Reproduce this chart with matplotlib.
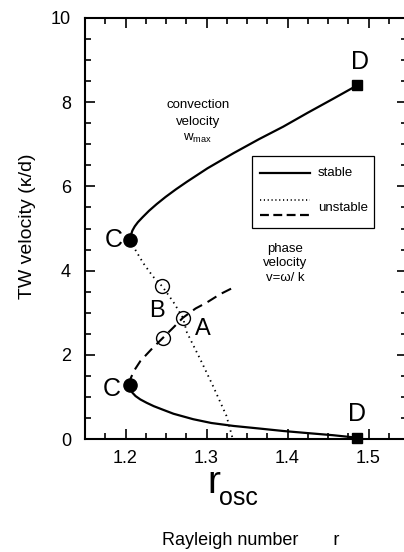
import numpy as np
import matplotlib
matplotlib.use("Agg")
import matplotlib.pyplot as plt
from matplotlib.ticker import MultipleLocator
from matplotlib.patches import Rectangle

plt.rcParams['font.family'] = ['Liberation Sans', 'DejaVu Sans']
plt.rcParams['mathtext.fontset'] = 'custom'
plt.rcParams['mathtext.rm'] = 'Liberation Sans'
plt.rcParams['mathtext.it'] = 'Liberation Sans'

# --- branch data (Rayleigh number r, TW velocity in kappa/d) ---
# stable convection-velocity branch C -> D
r_wmax_stable = [1.2056, 1.2066, 1.2085, 1.2114, 1.2153, 1.2212, 1.229, 1.2385, 1.2495, 1.2622,
                 1.2758, 1.3012, 1.3334, 1.3646, 1.3948, 1.425, 1.4562, 1.486]
w_wmax_stable = [4.72, 4.84, 4.95, 5.05, 5.15, 5.27, 5.42, 5.58, 5.75, 5.93,
                 6.11, 6.43, 6.79, 7.12, 7.42, 7.75, 8.08, 8.40]

# stable phase-velocity branch C -> D
r_phase_stable = [1.2056, 1.2066, 1.2085, 1.2124, 1.2183, 1.2261, 1.2349, 1.2456, 1.2592, 1.2836,
                  1.306, 1.3334, 1.3646, 1.3948, 1.425, 1.4562, 1.486]
v_phase_stable = [1.28, 1.18, 1.10, 1.02, 0.94, 0.86, 0.78, 0.70, 0.60, 0.47,
                  0.38, 0.31, 0.25, 0.19, 0.14, 0.09, 0.03]

# unstable convection-velocity branch (dotted)
r_wmax_unstable = [1.2056, 1.2134, 1.2222, 1.2339, 1.2456, 1.2592, 1.2709, 1.2758, 1.2924,
                   1.308, 1.3246, 1.332]
w_wmax_unstable = [4.72, 4.45, 4.17, 3.86, 3.62, 3.25, 2.88, 2.53, 1.89, 1.26, 0.55, 0.03]

# unstable phase-velocity branch (dashed)
r_phase_unstable = [1.2056, 1.2066, 1.2105, 1.2183, 1.2329, 1.2466, 1.2592, 1.2709, 1.2865,
                    1.3002, 1.3168, 1.3334]
v_phase_unstable = [1.28, 1.45, 1.62, 1.85, 2.15, 2.41, 2.65, 2.88, 3.10, 3.24, 3.44, 3.60]

# special points
r_C = [1.2056, 1.2056]
v_C = [4.72, 1.28]
r_D = [1.486, 1.486]
v_D = [8.40, 0.03]
r_open = [1.2456, 1.2466, 1.2709]
v_open = [3.63, 2.41, 2.88]

W, H = 404, 552
fig = plt.figure(figsize=(W / 100, H / 100), dpi=100)
ax = fig.add_axes([85 / W, 1 - 439 / H, 322 / W, (439 - 18) / H])

# pixel position -> axes fraction, for the hand-drawn legend
def px(x, y):
    return ((x - 85) / 322, (439 - y) / 421)

ax.plot(r_wmax_stable, w_wmax_stable, color='black', lw=1.6, solid_capstyle='round')
ax.plot(r_phase_stable, v_phase_stable, color='black', lw=1.6, solid_capstyle='round')
ax.plot(r_wmax_unstable, w_wmax_unstable, color='black', lw=1.3, linestyle=(0, (0.8, 2.2)))
ax.plot(r_phase_unstable, v_phase_unstable, color='black', lw=1.5, linestyle=(0, (5, 3)))

ax.plot(r_open, v_open, 'o', ms=10, mfc='none', mec='black', mew=1.0)
ax.plot(r_C, v_C, 'o', ms=9.5, color='black')
ax.plot(r_D, v_D, 's', ms=7.5, color='black', clip_on=False, zorder=5)

# point labels
lab = dict(fontsize=18, ha='center', va='center')
ax.text(1.1857, 4.73, 'C', **lab)
ax.text(1.1832, 1.19, 'C', **lab)
ax.text(1.4894, 8.95, 'D', **lab)
ax.text(1.4855, 0.59, 'D', **lab)
ax.text(1.2388, 3.04, 'B', fontsize=17, ha='center', va='center')
ax.text(1.2953, 2.61, 'A', fontsize=17, ha='center', va='center')

ax.text(1.2895, 7.52, 'convection\nvelocity\nw$_{\\rm max}$', fontsize=9.5,
        ha='center', va='center', linespacing=1.5)
ax.text(1.3967, 4.17, 'phase\nvelocity\nv=\u03c9/ k', fontsize=9.5,
        ha='center', va='center', linespacing=1.3)

# legend box
x0, y0 = px(252, 228)
x1, y1 = px(374, 156)
ax.add_patch(Rectangle((x0, y0), x1 - x0, y1 - y0, transform=ax.transAxes,
                       fill=False, lw=0.9, ec='black'))
lx = [px(260, 0)[0], px(310, 0)[0]]
ax.plot(lx, [px(0, 173)[1]] * 2, transform=ax.transAxes, color='black', lw=1.6)
ax.plot(lx, [px(0, 200)[1]] * 2, transform=ax.transAxes, color='black', lw=1.2,
        linestyle=(0, (0.7, 1.6)))
ax.plot(lx, [px(0, 215)[1]] * 2, transform=ax.transAxes, color='black', lw=1.6,
        linestyle=(0, (4, 2)))
ax.text(*px(318, 173), 'stable', transform=ax.transAxes,
        fontsize=9.5, va='center', ha='left')
ax.text(*px(318, 208), 'unstable', transform=ax.transAxes,
        fontsize=9.5, va='center', ha='left')

ax.set_xlim(1.15, 1.5475)
ax.set_ylim(0, 10)
ax.xaxis.set_major_locator(MultipleLocator(0.1))
ax.xaxis.set_minor_locator(MultipleLocator(0.025))
ax.yaxis.set_major_locator(MultipleLocator(2))
ax.yaxis.set_minor_locator(MultipleLocator(0.5))
ax.tick_params(which='both', direction='in', top=True, right=True, width=1.2,
               labelsize=13)
ax.tick_params(which='major', length=7)
ax.tick_params(which='minor', length=4)
ax.tick_params(axis='x', pad=8)
ax.tick_params(axis='y', pad=10)
ax.set_xticks([1.2, 1.3, 1.4, 1.5])
ax.set_xticklabels(['1.2', '1.3', '1.4', '1.5'])
for s in ax.spines.values():
    s.set_linewidth(1.5)

fig.text(28 / W, 1 - 226 / H, 'TW velocity (\u03ba/d)', rotation=90,
         fontsize=14, ha='center', va='center')
fig.text(207 / W, 1 - 493 / H, 'r', fontsize=28, ha='left', va='baseline')
fig.text(219 / W, 1 - 505 / H, 'osc', fontsize=18, ha='left', va='baseline')
fig.text(162 / W, 1 - 545 / H, 'Rayleigh number       r', fontsize=13,
         ha='left', va='baseline')

fig.savefig('out.png', dpi=100)
